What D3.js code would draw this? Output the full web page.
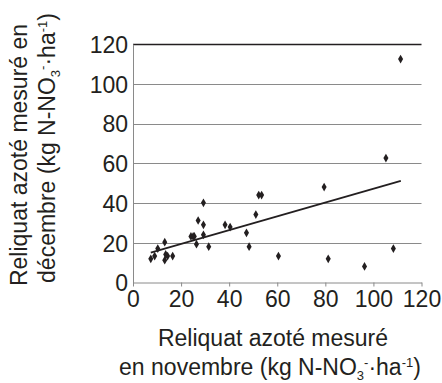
<!DOCTYPE html>
<html>
<head>
  <meta charset="UTF-8">
  <title>Reliquat azoté</title>
  <script src="https://d3js.org/d3.v7.min.js"></script>
  <style>
    body { margin: 0; background: #fff; font-family: "Liberation Sans", Arial, sans-serif; }
    .tick text { font-family: "Liberation Sans", Arial, sans-serif; font-size: 23px; fill: #231f20; }
  </style>
</head>
<body>
  <svg id="chart" width="442" height="383"></svg>
  <script>
    // novembre (x) / décembre (y), kg N-NO3-/ha
    const novembre = [7.4, 9.0, 10.3, 13.2, 13.2, 13.6, 14.4, 16.5, 24.1, 25.0, 25.5, 26.4, 27.1, 29.3, 29.3, 29.3,
      31.5, 38.3, 40.4, 47.2, 48.3, 51.1, 52.3, 53.5, 60.5, 79.5, 81.2, 96.3, 105.2, 108.3, 111.3];
    const decembre = [11.9, 13.3, 17.1, 20.3, 11.2, 14.1, 13.3, 13.3, 23.2, 23.2, 23.2, 19.3, 31.2, 40.1, 29.0, 24.0,
      18.0, 29.0, 27.9, 25.0, 18.0, 34.2, 44.0, 44.0, 13.3, 48.0, 11.9, 8.1, 62.6, 17.1, 112.4];
    const trendX = [7.4, 111.4];
    const trendSlope = 0.347, trendIntercept = 12.5;
    const xTicks = [0, 20, 40, 60, 80, 100, 120];
    const yTicks = [0, 20, 40, 60, 80, 100, 120];

    const svg = d3.select("#chart");
    const x = d3.scaleLinear().domain([0, 120]).range([133, 421.5]);
    const y = d3.scaleLinear().domain([0, 120]).range([282.5, 44]);

    // horizontal grid
    svg.append("g").selectAll("line")
      .data(yTicks.filter(d => d > 0))
      .enter().append("line")
      .attr("x1", x(0)).attr("x2", x(120))
      .attr("y1", d => Math.round(y(d)) + 0.5).attr("y2", d => Math.round(y(d)) + 0.5)
      .attr("stroke", d => d === 120 ? "#231f20" : "#8a8a8a")
      .attr("stroke-width", d => d === 120 ? 1.6 : 1);

    // y axis
    const yAxis = svg.append("g")
      .attr("transform", `translate(${x(0)},0)`)
      .call(d3.axisLeft(y).tickValues(yTicks).tickSize(0).tickPadding(5));
    yAxis.select(".domain").attr("stroke", "#8a8a8a");
    yAxis.selectAll(".tick text").attr("dy", "0.36em");

    // x axis
    const xAxis = svg.append("g")
      .attr("transform", `translate(0,${y(0)})`)
      .call(d3.axisBottom(x).tickValues(xTicks).tickSize(4).tickSizeOuter(0).tickPadding(4));
    xAxis.select(".domain").attr("stroke", "#8a8a8a");
    xAxis.selectAll(".tick line").attr("stroke", "#8a8a8a");

    // trend line
    svg.append("line")
      .attr("x1", x(trendX[0])).attr("y1", y(trendIntercept + trendSlope * trendX[0]))
      .attr("x2", x(trendX[1])).attr("y2", y(trendIntercept + trendSlope * trendX[1]))
      .attr("stroke", "#231f20").attr("stroke-width", 1.8);

    // points
    svg.append("g").selectAll("path")
      .data(novembre.map((v, i) => [v, decembre[i]]))
      .enter().append("path")
      .attr("d", d3.symbol().type(d3.symbolDiamond).size(22))
      .attr("transform", d => `translate(${x(d[0])},${y(d[1])})`)
      .attr("fill", "#231f20");

    // axis titles
    const unit = (t) => {
      t.append("tspan").text("(kg N-NO");
      t.append("tspan").attr("font-size", "13px").attr("dy", "5").text("3");
      t.append("tspan").attr("font-size", "13px").attr("dy", "-13").text("-");
      t.append("tspan").attr("dy", "8").text("·ha");
      t.append("tspan").attr("font-size", "13px").attr("dy", "-8").text("-1");
      t.append("tspan").attr("dy", "8").text(")");
    };

    const xt = svg.append("g").attr("font-size", "23px").attr("fill", "#231f20").attr("text-anchor", "middle");
    xt.append("text").attr("x", 273).attr("y", 346).text("Reliquat azoté mesuré");
    const xt2 = xt.append("text").attr("x", 270).attr("y", 375);
    xt2.append("tspan").text("en novembre ");
    unit(xt2);

    const yt = svg.append("g").attr("font-size", "23px").attr("fill", "#231f20").attr("text-anchor", "middle");
    yt.append("text").attr("transform", "translate(27,155) rotate(-90)").text("Reliquat azoté mesuré en");
    const yt2 = yt.append("text").attr("transform", "translate(55,148) rotate(-90)");
    yt2.append("tspan").text("décembre ");
    unit(yt2);
  </script>
</body>
</html>
